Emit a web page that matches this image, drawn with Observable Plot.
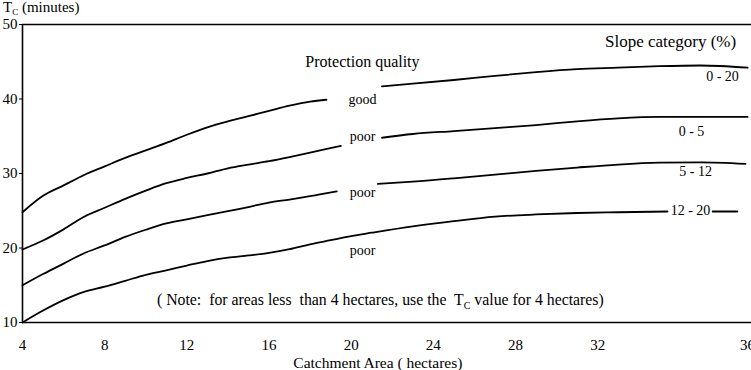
<!DOCTYPE html>
<html>
<head>
<meta charset="utf-8">
<script src="https://cdn.jsdelivr.net/npm/d3@7"></script>
<script src="https://cdn.jsdelivr.net/npm/@observablehq/plot@0.6"></script>
<style>
  body { margin: 0; background: #fff; }
  #chart svg { display: block; }
</style>
</head>
<body>
<div id="chart"></div>
<script>
// Slope categories (%) and protection quality of each curve
const slopeCategories = ["0 - 20", "0 - 5", "5 - 12", "12 - 20"];
const protection = ["good", "poor", "poor", "poor"];

// Catchment area (hectares) / Tc (minutes); null = gap for a label
const area_0_20 = [4, 5, 6, 7, 8, 9, 10, 11, 12, 13, 14, 15, 16, 17, 18, 18.8, null, 21.5, 23, 25, 27, 29, 31, 33, 35, 37, 39.3];
const tc_0_20   = [24.8, 27.0, 28.4, 29.8, 30.95, 32.1, 33.1, 34.1, 35.2, 36.2, 37.0, 37.7, 38.4, 39.1, 39.65, 39.9, null, 41.7, 42.05, 42.55, 43.1, 43.6, 44.0, 44.2, 44.4, 44.5, 44.2];

const area_0_5 = [4, 5, 6, 7, 8, 9, 10, 11, 12, 13, 14, 15, 16, 17, 18, 19.5, null, 21.5, 23, 25, 27, 29, 31, 33, 35, 37, 39.3];
const tc_0_5   = [19.8, 21.0, 22.5, 24.2, 25.4, 26.6, 27.7, 28.7, 29.4, 30.0, 30.7, 31.2, 31.65, 32.2, 32.8, 33.7, null, 34.8, 35.3, 35.7, 36.1, 36.5, 37.0, 37.4, 37.6, 37.6, 37.6];

const area_5_12 = [4, 5, 6, 7, 8, 9, 10, 11, 12, 13, 14, 15, 16, 17, 18, 19.3, null, 21.3, 23, 25, 27, 29, 31, 33, 35, 37, 39.2];
const tc_5_12   = [15.0, 16.5, 17.9, 19.3, 20.35, 21.5, 22.45, 23.3, 23.85, 24.4, 24.95, 25.5, 26.1, 26.5, 26.95, 27.6, null, 28.6, 28.9, 29.35, 29.85, 30.35, 30.8, 31.2, 31.45, 31.5, 31.3];

const area_12_20 = [4, 5, 6, 7, 8, 9, 10, 11, 12, 13, 14, 15, 16, 17, 18, 19, 20, 21, 23, 25, 27, 29, 31, 33, 35.4, null, 37.6, 38.8];
const tc_12_20   = [10.0, 11.6, 13.0, 14.1, 14.8, 15.6, 16.4, 17.0, 17.65, 18.25, 18.7, 19.0, 19.35, 19.85, 20.5, 21.05, 21.6, 22.05, 22.9, 23.6, 24.2, 24.5, 24.7, 24.8, 24.9, null, 24.9, 24.9];

// Axis ticks
const yTicks = [10, 20, 30, 40, 50];
const xTicks = [4, 8, 12, 16, 20, 24, 28, 32, 39.3];
const xTickLabels = ["4", "8", "12", "16", "20", "24", "28", "32", "36"];

// Annotation texts (placed in data units)
const qualityText = ["good", "poor", "poor", "poor"];
const qualityArea = [20.55, 20.55, 20.55, 20.55];
const qualityTc   = [39.9, 34.9, 27.4, 19.7];
const qualityTitle = "Protection quality", qualityTitleArea = 20.55, qualityTitleTc = 45.0;

const slopeText = ["0 - 20", "0 - 5", "5 - 12", "12 - 20"];
const slopeArea = [38.08, 36.57, 36.77, 36.52];
const slopeTc   = [43.0, 35.6, 30.2, 25.0];
const slopeTitle = "Slope category (%)", slopeTitleArea = 35.55, slopeTitleTc = 47.7;

const xTitle = "Catchment Area ( hectares)";
const yTitleMain = "T", yTitleSub = "C", yTitleRest = " (minutes)";
const notePre = "( Note:  for areas less  than 4 hectares, use the  ";
const noteSym = "T", noteSub = "C", notePost = " value for 4 hectares)";
const noteArea = 10.57, noteTc = 12.95;

// Build rows
const seriesData = [
  [area_0_20, tc_0_20], [area_0_5, tc_0_5], [area_5_12, tc_5_12], [area_12_20, tc_12_20]
];
const rows = [];
seriesData.forEach(([a, t], s) => {
  a.forEach((v, i) => rows.push({slope: slopeCategories[s], quality: protection[s], area: v == null ? NaN : v, tc: t[i] == null ? NaN : t[i]}));
});
const qualityRows = qualityText.map((t, i) => ({t, area: qualityArea[i], tc: qualityTc[i]}));
const slopeRows = slopeText.map((t, i) => ({t, area: slopeArea[i], tc: slopeTc[i]}));
const tickLabelOf = new Map(xTicks.map((d, i) => [d, xTickLabels[i]]));

const font = "Liberation Serif, Times New Roman, serif";

const plot = Plot.plot({
  width: 751,
  height: 370,
  marginLeft: 22,
  marginRight: 0,
  marginTop: 24,
  marginBottom: 48,
  style: {fontFamily: font, fontSize: "15px", color: "#000", background: "#fff"},
  x: {domain: [4, 39.49], ticks: xTicks, tickFormat: d => tickLabelOf.get(d), tickSize: 0, tickPadding: 17, label: null},
  y: {domain: [10, 50], ticks: yTicks, tickSize: 3, tickPadding: 2, label: null},
  marks: [
    Plot.ruleY([10, 50], {stroke: "#000", strokeWidth: 1.6}),
    Plot.ruleX([4], {stroke: "#000", strokeWidth: 1.6}),
    Plot.line(rows, {x: "area", y: "tc", z: "slope", stroke: "#000", strokeWidth: 1.8, curve: "monotone-x"}),
    Plot.text(qualityRows, {x: "area", y: "tc", text: "t", fontSize: 14, fill: "#000"}),
    Plot.text([qualityTitle], {x: qualityTitleArea, y: qualityTitleTc, text: d => d, fontSize: 16, fill: "#000"}),
    Plot.text(slopeRows, {x: "area", y: "tc", text: "t", fontSize: 14, fill: "#000"}),
    Plot.text([slopeTitle], {x: slopeTitleArea, y: slopeTitleTc, text: d => d, fontSize: 17, fill: "#000"}),
    Plot.text([xTitle], {x: 21.3, frameAnchor: "bottom", dy: 45, text: d => d, fontSize: 15.5, fill: "#000"})
  ]
});

document.getElementById("chart").appendChild(plot);

// Texts with subscripts, positioned through the plot's scales
const svg = d3.select(plot);
const xs = plot.scale("x"), ys = plot.scale("y");

function subText(x, y, parts) {
  const t = svg.append("text")
    .attr("x", x).attr("y", y)
    .attr("font-family", font)
    .attr("fill", "#000")
    .attr("text-anchor", "start");
  parts.forEach(p => {
    const s = t.append("tspan").text(p.text).attr("font-size", p.size);
    if (p.dy) s.attr("dy", p.dy);
  });
  return t;
}

subText(xs.apply(4) - 19, ys.apply(50) - 12, [
  {text: yTitleMain, size: 15},
  {text: yTitleSub, size: 9, dy: 3},
  {text: yTitleRest, size: 15, dy: -3}
]);

subText(xs.apply(noteArea), ys.apply(noteTc) + 5, [
  {text: notePre, size: 15.8},
  {text: noteSym, size: 15.8},
  {text: noteSub, size: 10, dy: 4},
  {text: notePost, size: 15.8, dy: -4}
]);
</script>
</body>
</html>
